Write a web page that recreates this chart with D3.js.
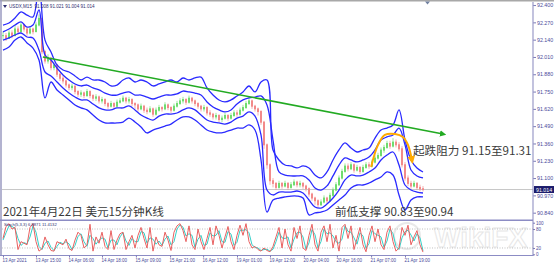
<!DOCTYPE html>
<html>
<head>
<meta charset="utf-8">
<script src="https://cdn.jsdelivr.net/npm/d3@7/dist/d3.min.js"></script>
<style>
  body { margin: 0; background: #fff; }
  svg { display: block; }
  .ax text { font-family: "Liberation Sans", Arial, sans-serif; fill: #4a4a9a; }
</style>
</head>
<body>
<script>
// ---- data ----
let priceTicks = [92.400, 92.270, 92.140, 92.010, 91.880, 91.750, 91.620, 91.490, 91.360, 91.230, 91.100, 90.970, 90.840]
let stochTicks = [100, 80, 20, 0]
let timeLabels = ["13 Apr 2021", "13 Apr 15:00", "14 Apr 06:00", "14 Apr 18:00", "15 Apr 09:00", "15 Apr 21:00",
  "16 Apr 12:00", "19 Apr 01:00", "19 Apr 12:00", "20 Apr 04:00", "20 Apr 16:00", "21 Apr 07:00", "21 Apr 19:00"]
let timeSlots = [0, 11, 22, 33, 44.3, 55.7, 66.7, 78, 89, 100.3, 111.3, 122.7, 134]
let lastPrice = 91.014

// bands, one value every 2 slots
let upperOuter = [92.250, 92.265, 92.303, 92.348, 92.325, 92.310, 92.551, 92.137, 92.047, 91.950, 91.912, 91.897, 91.867, 91.837, 91.859, 91.837, 91.837, 91.822, 91.792, 91.799, 91.837, 91.852, 91.822, 91.837, 91.822, 91.792, 91.807, 91.822, 91.837, 91.822, 91.852, 91.837, 91.852, 91.859, 91.777, 91.724, 91.687, 91.672, 91.687, 91.717, 91.747, 91.792, 91.747, 91.822, 91.837, 91.311, 91.236, 91.198, 91.191, 91.176, 91.191, 91.176, 91.123, 91.101, 91.146, 91.236, 91.311, 91.364, 91.326, 91.296, 91.311, 91.326, 91.401, 91.461, 91.476, 91.499, 91.612, 91.386, 91.236, 91.176, 91.146]
let upperInner = [92.198, 92.220, 92.250, 92.273, 92.235, 92.250, 92.363, 92.025, 91.987, 91.927, 91.875, 91.837, 91.807, 91.792, 91.799, 91.777, 91.762, 91.739, 91.724, 91.724, 91.739, 91.747, 91.724, 91.724, 91.709, 91.694, 91.709, 91.724, 91.724, 91.732, 91.754, 91.747, 91.739, 91.724, 91.672, 91.634, 91.612, 91.597, 91.612, 91.657, 91.687, 91.702, 91.709, 91.717, 91.649, 91.386, 91.146, 91.123, 91.116, 91.116, 91.116, 91.086, 91.026, 91.010, 91.041, 91.116, 91.198, 91.251, 91.236, 91.221, 91.236, 91.258, 91.311, 91.386, 91.409, 91.424, 91.476, 91.349, 91.161, 91.116, 91.101]
let lowerInner = [92.137, 92.153, 92.175, 92.190, 92.160, 92.153, 92.062, 91.897, 91.867, 91.822, 91.777, 91.739, 91.709, 91.687, 91.687, 91.657, 91.627, 91.612, 91.612, 91.627, 91.627, 91.642, 91.612, 91.574, 91.551, 91.536, 91.566, 91.581, 91.581, 91.589, 91.612, 91.627, 91.612, 91.574, 91.536, 91.521, 91.514, 91.506, 91.521, 91.551, 91.566, 91.597, 91.566, 91.424, 91.010, 90.973, 90.995, 90.995, 90.995, 91.003, 90.988, 90.935, 90.883, 90.875, 90.905, 90.950, 91.010, 91.086, 91.123, 91.116, 91.123, 91.146, 91.176, 91.236, 91.273, 91.296, 91.198, 91.048, 91.010, 90.995, 90.988]
let lowerOuter = [92.062, 92.085, 92.137, 92.160, 92.115, 92.077, 91.987, 91.702, 91.822, 91.762, 91.724, 91.687, 91.649, 91.627, 91.612, 91.574, 91.536, 91.514, 91.514, 91.514, 91.521, 91.551, 91.521, 91.484, 91.439, 91.461, 91.476, 91.491, 91.506, 91.536, 91.559, 91.559, 91.536, 91.499, 91.461, 91.446, 91.439, 91.446, 91.461, 91.476, 91.476, 91.499, 91.461, 91.236, 90.845, 90.935, 90.950, 90.958, 90.965, 90.965, 90.950, 90.823, 90.838, 90.845, 90.860, 90.898, 90.935, 90.973, 91.026, 91.048, 91.048, 91.063, 91.086, 91.108, 91.146, 91.123, 90.973, 90.860, 90.935, 90.958, 90.958]

// one bar per slot: close, high, low
let closes = [92.17, 92.15, 92.19, 92.17, 92.22, 92.20, 92.25, 92.22, 92.19, 92.22, 92.20, 92.25, 92.30, 92.05, 91.98, 92.00, 91.93, 91.95, 91.88, 91.85,
  91.83, 91.80, 91.78, 91.79, 91.75, 91.73, 91.74, 91.72, 91.75, 91.72, 91.70, 91.71, 91.68, 91.69, 91.66, 91.64, 91.66, 91.64, 91.67, 91.68,
  91.70, 91.68, 91.69, 91.66, 91.65, 91.62, 91.64, 91.61, 91.60, 91.62, 91.58, 91.61, 91.63, 91.62, 91.65, 91.63, 91.61, 91.64, 91.66, 91.68,
  91.69, 91.67, 91.70, 91.68, 91.66, 91.64, 91.62, 91.63, 91.59, 91.58, 91.56, 91.57, 91.54, 91.55, 91.57, 91.55, 91.57, 91.59, 91.58, 91.61,
  91.63, 91.66, 91.68, 91.64, 91.62, 91.60, 91.52, 91.35, 91.20, 91.08, 91.06, 91.03, 91.06, 91.04, 91.06, 91.03, 91.05, 91.07, 91.05, 91.06,
  91.04, 91.02, 90.98, 90.95, 90.93, 90.90, 90.92, 90.95, 90.93, 90.97, 91.01, 91.05, 91.10, 91.15, 91.19, 91.17, 91.20, 91.16, 91.18, 91.15,
  91.18, 91.20, 91.19, 91.22, 91.25, 91.27, 91.31, 91.33, 91.36, 91.34, 91.37, 91.35, 91.32, 91.20, 91.10, 91.06, 91.04, 91.06, 91.03, 91.02, 91.014]
let highs = [92.20, 92.19, 92.21, 92.21, 92.25, 92.24, 92.27, 92.26, 92.23, 92.24, 92.23, 92.27, 92.33, 92.30, 92.06, 92.03, 92.01, 91.97, 91.96, 91.89,
  91.87, 91.84, 91.81, 91.81, 91.80, 91.76, 91.76, 91.75, 91.77, 91.76, 91.73, 91.73, 91.72, 91.71, 91.70, 91.67, 91.68, 91.67, 91.69, 91.70,
  91.72, 91.71, 91.71, 91.70, 91.67, 91.66, 91.66, 91.65, 91.63, 91.64, 91.63, 91.63, 91.65, 91.64, 91.67, 91.66, 91.64, 91.66, 91.68, 91.70,
  91.71, 91.70, 91.72, 91.71, 91.69, 91.67, 91.65, 91.65, 91.64, 91.61, 91.59, 91.59, 91.58, 91.57, 91.59, 91.58, 91.59, 91.61, 91.61, 91.63,
  91.65, 91.68, 91.71, 91.69, 91.65, 91.63, 91.61, 91.53, 91.36, 91.21, 91.10, 91.07, 91.08, 91.07, 91.08, 91.07, 91.07, 91.09, 91.08, 91.08,
  91.07, 91.05, 91.03, 90.99, 90.96, 90.94, 90.94, 90.97, 90.96, 90.99, 91.03, 91.07, 91.12, 91.17, 91.21, 91.21, 91.22, 91.21, 91.20, 91.19,
  91.20, 91.22, 91.22, 91.24, 91.27, 91.29, 91.33, 91.35, 91.38, 91.38, 91.40, 91.39, 91.37, 91.34, 91.22, 91.12, 91.08, 91.08, 91.07, 91.05, 91.04]
let lows = [92.14, 92.13, 92.15, 92.15, 92.17, 92.18, 92.20, 92.20, 92.17, 92.18, 92.18, 92.20, 92.24, 92.03, 91.96, 91.96, 91.91, 91.91, 91.86, 91.83,
  91.81, 91.78, 91.76, 91.76, 91.73, 91.71, 91.71, 91.70, 91.71, 91.70, 91.68, 91.68, 91.66, 91.66, 91.64, 91.62, 91.63, 91.62, 91.63, 91.66,
  91.67, 91.66, 91.66, 91.64, 91.62, 91.60, 91.61, 91.59, 91.58, 91.59, 91.56, 91.57, 91.60, 91.60, 91.61, 91.61, 91.59, 91.60, 91.63, 91.65,
  91.66, 91.65, 91.66, 91.66, 91.64, 91.62, 91.60, 91.60, 91.57, 91.56, 91.54, 91.54, 91.52, 91.52, 91.54, 91.53, 91.54, 91.56, 91.56, 91.57,
  91.60, 91.62, 91.65, 91.62, 91.60, 91.57, 91.50, 91.32, 91.17, 91.05, 91.03, 91.01, 91.02, 91.02, 91.03, 91.01, 91.02, 91.04, 91.03, 91.03,
  91.02, 91.00, 90.96, 90.93, 90.90, 90.88, 90.89, 90.91, 90.91, 90.92, 90.96, 91.00, 91.04, 91.09, 91.14, 91.15, 91.16, 91.14, 91.15, 91.13,
  91.14, 91.17, 91.17, 91.18, 91.21, 91.24, 91.26, 91.29, 91.32, 91.32, 91.33, 91.33, 91.30, 91.18, 91.08, 91.04, 91.02, 91.03, 91.01, 91.00, 91.00]

let stochMain = [50, 88, 97, 80, 85, 15, 40, 35, 30, 85, 97, 40, 10, 18, 55, 30, 12, 10, 40, 35,
  30, 48, 18, 12, 45, 70, 60, 20, 30, 95, 10, 55, 35, 70, 25, 15, 75, 15, 45, 65,
  70, 15, 40, 60, 20, 60, 85, 50, 20, 85, 10, 55, 30, 25, 70, 45, 12, 70, 90, 97,
  75, 40, 90, 30, 15, 80, 40, 15, 50, 85, 30, 90, 60, 20, 55, 88, 40, 15, 60, 92,
  60, 97, 40, 20, 25, 15, 10, 20, 12, 8, 25, 55, 85, 20, 80, 30, 10, 85, 50, 90,
  20, 12, 60, 95, 30, 10, 70, 90, 40, 95, 20, 60, 10, 85, 95, 50, 90, 15, 50, 85,
  30, 8, 60, 90, 40, 80, 30, 15, 70, 90, 40, 10, 20, 85, 60, 92, 30, 55, 75, 30, 7]
let stochSignal = [45, 68, 90, 88, 82, 50, 28, 37, 33, 55, 90, 70, 25, 15, 35, 42, 22, 12, 25, 38,
  33, 40, 33, 15, 28, 57, 65, 40, 25, 60, 50, 32, 45, 52, 48, 20, 45, 45, 30, 55,
  68, 42, 28, 50, 40, 40, 72, 68, 35, 52, 48, 32, 42, 28, 48, 58, 30, 40, 80, 93,
  86, 58, 65, 60, 22, 48, 60, 28, 32, 68, 58, 60, 75, 40, 38, 72, 64, 28, 38, 76,
  76, 78, 68, 30, 22, 20, 12, 15, 16, 10, 16, 40, 70, 52, 50, 55, 20, 48, 68, 70,
  55, 16, 36, 78, 62, 20, 40, 80, 65, 68, 58, 40, 35, 48, 90, 72, 70, 52, 32, 68,
  58, 19, 34, 75, 65, 60, 55, 22, 42, 80, 65, 25, 15, 52, 72, 76, 61, 42, 65, 52, 11]

// hand-drawn annotations (slot, price)
let trendLine = [[13.3, 92.010], [146.7, 91.431]]
let orangeArc = [[122.7, 91.183], [125, 91.349], [127.3, 91.424], [130.7, 91.431], [133.3, 91.409], [135, 91.349], [136.3, 91.236]]

// ---- layout ----
let w = 554
let h = 265
let plotLeft = 2
let plotRight = 533
let priceTop = 2
let priceBottom = 219.5
let stochTop = 221
let stochBottom = 255.5

let svg = d3.select("body").append("svg")
  .attr("width", w)
  .attr("height", h)
  .style("background", "#fff")

let x = d3.scaleLinear().domain([0, 176]).range([3, 531])
let y = d3.scaleLinear().domain([90.785, 92.438]).range([220, 0])
let ys = d3.scaleLinear().domain([0, 100]).range([254.3, 222.7])

let defs = svg.append("defs")
defs.append("clipPath").attr("id", "priceClip")
  .append("rect").attr("x", plotLeft).attr("y", priceTop)
  .attr("width", plotRight - plotLeft).attr("height", priceBottom - priceTop)
defs.append("clipPath").attr("id", "stochClip")
  .append("rect").attr("x", plotLeft).attr("y", stochTop)
  .attr("width", plotRight - plotLeft).attr("height", stochBottom - stochTop)
defs.append("marker").attr("id", "arrG")
  .attr("viewBox", "0 0 10 10").attr("refX", 5).attr("refY", 5)
  .attr("markerWidth", 4).attr("markerHeight", 4).attr("orient", "auto")
  .append("path").attr("d", "M0,0 L10,5 L0,10 z").attr("fill", "#22aa22")
defs.append("marker").attr("id", "arrO")
  .attr("viewBox", "0 0 10 10").attr("refX", 5).attr("refY", 5)
  .attr("markerWidth", 4).attr("markerHeight", 4).attr("orient", "auto")
  .append("path").attr("d", "M0,0 L10,5 L0,10 z").attr("fill", "#ffaa00")

// watermark
let wm = svg.append("g").attr("opacity", 0.5)
wm.append("circle").attr("cx", 407).attr("cy", 236).attr("r", 13)
  .attr("fill", "none").attr("stroke", "#d4d4d4").attr("stroke-width", 2)
wm.append("text").text("WikiFX").attr("x", 434).attr("y", 247)
  .attr("font-family", "Liberation Sans, Arial, sans-serif").attr("font-weight", "bold")
  .attr("font-size", 28).attr("fill", "none").attr("stroke", "#d0d0d0").attr("stroke-width", 1)

// frame
svg.append("line").attr("x1", 0).attr("x2", w).attr("y1", 0.75).attr("y2", 0.75)
  .attr("stroke", "#a8a8a8").attr("stroke-width", 1.5)
svg.append("line").attr("x1", 1).attr("x2", 1).attr("y1", 0).attr("y2", 256)
  .attr("stroke", "#9a9ac0").attr("stroke-width", 1.5)

// price panel
let pricePanel = svg.append("g").attr("clip-path", "url(#priceClip)")

pricePanel.append("line")
  .attr("x1", plotLeft).attr("x2", plotRight)
  .attr("y1", y(lastPrice)).attr("y2", y(lastPrice))
  .attr("stroke", "#c8c8c8").attr("stroke-width", 1)

let bars = closes.map((c, i) => ({
  slot: i, open: i === 0 ? c : closes[i - 1], close: c, high: highs[i], low: lows[i]
}))
let barColor = d => d.close >= d.open ? "#6fdc6f" : "#f28a8a"

pricePanel.selectAll(".wick")
  .data(bars)
  .enter()
  .append("line")
  .attr("class", "wick")
  .attr("x1", d => x(d.slot)).attr("x2", d => x(d.slot))
  .attr("y1", d => y(d.high)).attr("y2", d => y(d.low))
  .attr("stroke", barColor).attr("stroke-width", 0.9).attr("opacity", 0.75)

pricePanel.selectAll(".body")
  .data(bars)
  .enter()
  .append("rect")
  .attr("class", "body")
  .attr("x", d => x(d.slot) - 1)
  .attr("width", 2)
  .attr("y", d => Math.min(y(d.open), y(d.close)) - 0.5)
  .attr("height", d => Math.abs(y(d.open) - y(d.close)) + 1)
  .attr("fill", barColor)

let bandLine = d3.line()
  .x((d, i) => x(i * 2))
  .y(d => y(d))
  .curve(d3.curveCatmullRom.alpha(0.5))

let bands = [upperOuter, upperInner, lowerInner, lowerOuter]
pricePanel.selectAll(".band")
  .data(bands)
  .enter()
  .append("path")
  .attr("class", "band")
  .attr("d", bandLine)
  .attr("fill", "none")
  .attr("stroke", "#2a2aff")
  .attr("stroke-width", 1.3)

let annLine = d3.line().x(d => x(d[0])).y(d => y(d[1]))
svg.append("path").datum(trendLine)
  .attr("d", annLine).attr("fill", "none")
  .attr("stroke", "#22aa22").attr("stroke-width", 1.6)
  .attr("marker-end", "url(#arrG)")

svg.append("path").datum(orangeArc)
  .attr("d", annLine.curve(d3.curveCatmullRom))
  .attr("fill", "none")
  .attr("stroke", "#ffaa00").attr("stroke-width", 2)
  .attr("marker-end", "url(#arrO)")

// price axis
let priceAxis = d3.axisRight(y).tickValues(priceTicks).tickSize(3).tickFormat(d3.format(".3f"))
let pa = svg.append("g").attr("class", "ax").attr("transform", "translate(" + plotRight + ",0)").call(priceAxis)
pa.select(".domain").remove()
pa.selectAll("line").attr("stroke", "#7a7ab8")
pa.selectAll("text").attr("font-size", 5.3).attr("x", 4)

svg.append("line").attr("x1", plotRight).attr("x2", plotRight).attr("y1", priceTop).attr("y2", stochBottom)
  .attr("stroke", "#9a9ac8").attr("stroke-width", 1.2)

// last price box
svg.append("rect").attr("x", plotRight + 1).attr("y", y(lastPrice) - 3.5)
  .attr("width", 20).attr("height", 7).attr("fill", "#1c1c6c")
svg.append("text").text(d3.format(".3f")(lastPrice))
  .attr("x", plotRight + 3).attr("y", y(lastPrice) + 2)
  .attr("font-family", "Liberation Sans, Arial, sans-serif")
  .attr("font-size", 5.3).attr("fill", "#fff")

// header
svg.append("path").attr("d", "M3,5 L7,5 L5,8 z").attr("fill", "#303070")
svg.append("text").text("USDX,M15  91.008 91.021 91.004 91.014")
  .attr("x", 9).attr("y", 8)
  .attr("font-family", "Liberation Sans, Arial, sans-serif")
  .attr("font-size", 4.6).attr("fill", "#303070")
  .attr("xml:space", "preserve")
svg.append("path").attr("d", "M425,1.5 L430,1.5 L427.5,4.5 z").attr("fill", "#7080a0")

// chinese captions
let cap = (t, px, py) => svg.append("text").text(t)
  .attr("x", px).attr("y", py)
  .attr("font-family", "Noto Sans CJK SC, sans-serif")
  .attr("font-size", 11.6).attr("fill", "#3a3a3a")
cap("2021年4月22日 美元15分钟K线", 3, 216)
cap("前低支撑 90.83至90.94", 335, 216)
cap("起跌阻力 91.15至91.31", 413, 155)

// panel separator
svg.append("line").attr("x1", 0).attr("x2", plotRight).attr("y1", 220.2).attr("y2", 220.2)
  .attr("stroke", "#8c8cc4").attr("stroke-width", 1.6)

// stoch panel
let stochPanel = svg.append("g").attr("clip-path", "url(#stochClip)")
stochPanel.selectAll(".lvl")
  .data([80, 20])
  .enter()
  .append("line")
  .attr("x1", plotLeft).attr("x2", plotRight)
  .attr("y1", d => ys(d)).attr("y2", d => ys(d))
  .attr("stroke", "#b0b0b0").attr("stroke-width", 0.8).attr("stroke-dasharray", "1,1.5")

let stochLine = d3.line().x((d, i) => x(i)).y(d => ys(d))
stochPanel.append("path").datum(stochSignal)
  .attr("d", stochLine).attr("fill", "none")
  .attr("stroke", "#35d0c8").attr("stroke-width", 1)
stochPanel.append("path").datum(stochMain)
  .attr("d", stochLine).attr("fill", "none")
  .attr("stroke", "#e86060").attr("stroke-width", 1)

svg.append("text").text("Stoch(5,3,3) 6.8871 11.4132")
  .attr("x", 4).attr("y", 226)
  .attr("font-family", "Liberation Sans, Arial, sans-serif")
  .attr("font-size", 4.2).attr("fill", "#303070")

let stochAxis = d3.axisRight(ys).tickValues(stochTicks).tickSize(2).tickFormat(d3.format("d"))
let sa = svg.append("g").attr("class", "ax").attr("transform", "translate(" + plotRight + ",0)").call(stochAxis)
sa.select(".domain").remove()
sa.selectAll("line").attr("stroke", "#7a7ab8")
sa.selectAll("text").attr("font-size", 4.6).attr("x", 3)

svg.append("line").attr("x1", 0).attr("x2", plotRight + 0.6).attr("y1", stochBottom).attr("y2", stochBottom)
  .attr("stroke", "#8c8cc4").attr("stroke-width", 1.2)

// time axis
let timeAxis = d3.axisBottom(x).tickValues(timeSlots).tickSize(2)
  .tickFormat((d, i) => timeLabels[i])
let ta = svg.append("g").attr("class", "ax").attr("transform", "translate(0," + stochBottom + ")").call(timeAxis)
ta.select(".domain").remove()
ta.selectAll("line").attr("stroke", "#7a7ab8")
ta.selectAll("text").attr("font-size", 4.5).attr("text-anchor", "start").attr("dx", -1).attr("y", 3.5)
</script>
</body>
</html>
